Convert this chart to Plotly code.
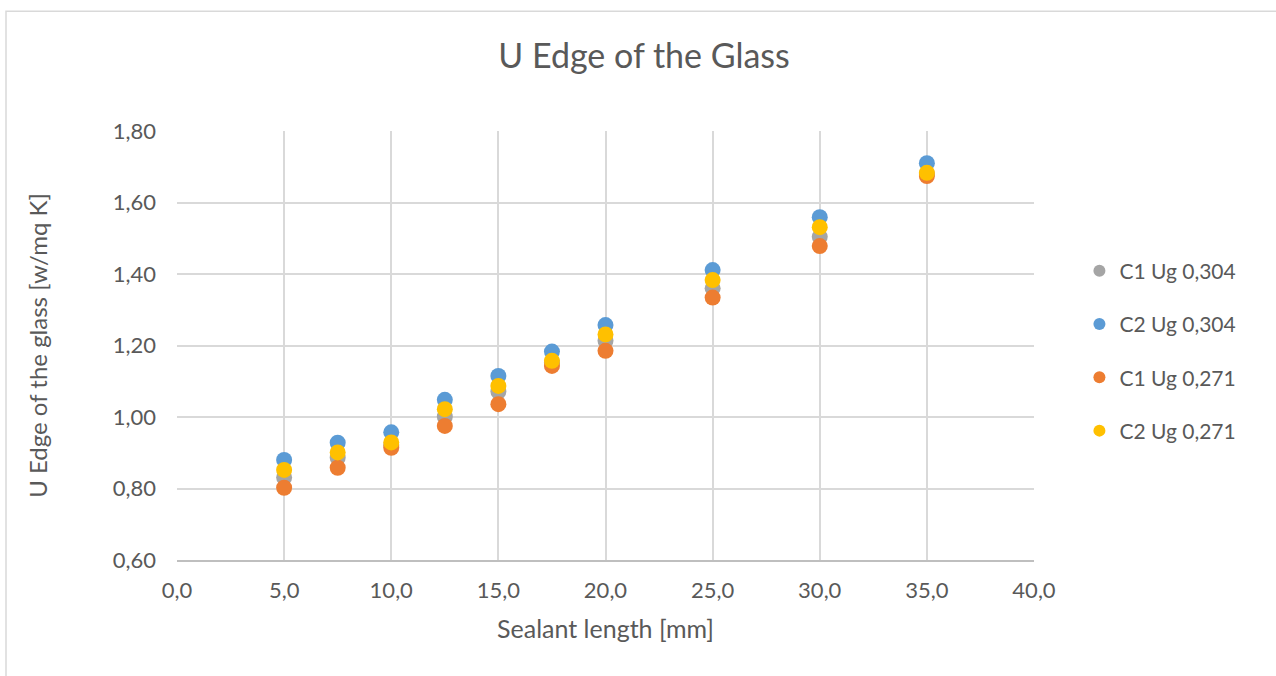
import plotly.graph_objects as go

# Sealant length [mm]
sealant_length = [5.0, 7.5, 10.0, 12.5, 15.0, 17.5, 20.0, 25.0, 30.0, 35.0]

# U edge of the glass [W/m² K] per configuration
c1_ug_0304 = [0.831, 0.886, 0.922, 1.001, 1.071, 1.152, 1.213, 1.360, 1.504, 1.680]
c2_ug_0304 = [0.880, 0.928, 0.957, 1.048, 1.115, 1.183, 1.257, 1.411, 1.559, 1.710]
c1_ug_0271 = [0.802, 0.858, 0.914, 0.975, 1.036, 1.143, 1.185, 1.334, 1.478, 1.674]
c2_ug_0271 = [0.852, 0.901, 0.929, 1.022, 1.087, 1.157, 1.231, 1.383, 1.531, 1.683]

series = [
    ("C1 Ug 0,304", c1_ug_0304, "#A5A5A5"),
    ("C2 Ug 0,304", c2_ug_0304, "#5B9BD5"),
    ("C1 Ug 0,271", c1_ug_0271, "#ED7D31"),
    ("C2 Ug 0,271", c2_ug_0271, "#FFC000"),
]

FONT = "Lato, Open Sans, sans-serif"
TEXT = "#595959"
GRID = "#D9D9D9"

fig = go.Figure()
for i, (name, vals, color) in enumerate(series):
    fig.add_trace(go.Scatter(
        x=sealant_length, y=vals, mode="markers", name=name,
        legendgroup=f"g{i}",
        marker=dict(color=color, size=16, line=dict(width=0)),
    ))

fig.update_layout(
    width=1276, height=676,
    margin=dict(l=177, r=242, t=131, b=116),
    paper_bgcolor="white", plot_bgcolor="white",
    separators=",.",
    font=dict(family=FONT, color=TEXT, size=22),
    title=dict(text="U Edge of the Glass", x=644 / 1276, xanchor="center",
               y=1 - 56 / 676, yanchor="middle",
               font=dict(size=34, color=TEXT, family=FONT)),
    xaxis=dict(range=[0, 40], dtick=5, tickformat=".1f",
               showgrid=True, gridcolor=GRID, gridwidth=1.5,
               zeroline=False, showline=True, linecolor="#BFBFBF", linewidth=1.5,
               ticks="", ticklabelstandoff=10,
               title=dict(text="Sealant length [mm]", font=dict(size=25), standoff=18),
               tickfont=dict(size=22, color=TEXT)),
    yaxis=dict(range=[0.6, 1.8], dtick=0.2, tickformat=".2f",
               showgrid=True, gridcolor=GRID, gridwidth=1.5,
               zeroline=False, showline=False,
               ticks="", ticklabelstandoff=20,
               title=dict(text="U Edge of the glass [w/mq K]", font=dict(size=24), standoff=58),
               tickfont=dict(size=22, color=TEXT)),
    legend=dict(x=1.053, xanchor="left", y=0.487, yanchor="middle",
                font=dict(size=21, color=TEXT), tracegroupgap=23,
                itemsizing="constant", itemwidth=30, bgcolor="rgba(0,0,0,0)"),
    showlegend=True,
)

# outer chart frame
fig.add_shape(type="rect", xref="paper", yref="paper",
              x0=(6 - 177) / 857, x1=(1290 - 177) / 857,
              y0=(560.5 - 690) / 429.5, y1=(560.5 - 11) / 429.5,
              line=dict(color="#D9D9D9", width=1.5), fillcolor="rgba(0,0,0,0)",
              layer="below")

fig.write_html("out.html")
